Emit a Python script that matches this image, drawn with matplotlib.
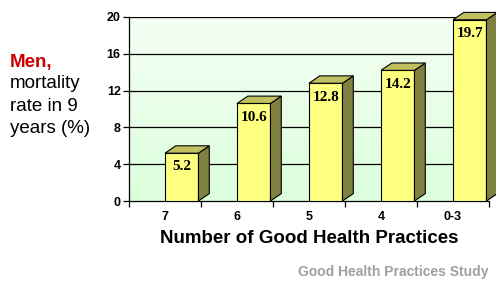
import numpy as np
import matplotlib
matplotlib.use("Agg")
import matplotlib.pyplot as plt
from matplotlib.patches import Polygon
from matplotlib.colors import LinearSegmentedColormap

categories = ["7", "6", "5", "4", "0-3"]
values = [5.2, 10.6, 12.8, 14.2, 19.7]
yticks = [0, 4, 8, 12, 16, 20]

W, H = 496, 282
fig = plt.figure(figsize=(W / 100, H / 100), dpi=100)
fig.patch.set_facecolor("white")
ax = fig.add_axes([129 / W, (H - 201) / H, 360 / W, 184 / H])

sans = ["Liberation Sans", "DejaVu Sans"]
serif = ["Liberation Serif", "DejaVu Serif"]

ax.set_xlim(0, len(categories))
ax.set_ylim(0, 20)

# wall gradient
cmap = LinearSegmentedColormap.from_list("g", ["#dcfedc", "#f4fff4"])
grad = np.linspace(0, 1, 100).reshape(-1, 1)
ax.imshow(grad, extent=[0, len(categories), 0, 20], origin="lower", aspect="auto",
          cmap=cmap, zorder=0)

for t in yticks[1:]:
    ax.axhline(t, color="black", lw=0.9, zorder=1)

bw = 0.465
dx = 0.150
dy = 0.80
xs = np.arange(len(categories)) + 0.5
ax.bar(xs, values, width=bw, align="edge", color="#ffff80", edgecolor="black",
       linewidth=0.8, zorder=3)
for x, v in zip(xs, values):
    side = Polygon([(x + bw, 0), (x + bw + dx, dy), (x + bw + dx, v + dy), (x + bw, v)],
                   closed=True, facecolor="#808040", edgecolor="black", lw=0.8,
                   zorder=3, clip_on=False)
    top = Polygon([(x, v), (x + dx, v + dy), (x + bw + dx, v + dy), (x + bw, v)],
                  closed=True, facecolor="#c0c060", edgecolor="black", lw=0.8,
                  zorder=3, clip_on=False)
    ax.add_patch(side)
    ax.add_patch(top)
    ax.text(x + bw / 2, v - 1.5, f"{v:.1f}", ha="center", va="center",
            fontsize=11, fontweight="bold", family=serif, zorder=4)

for s in ["top", "right"]:
    ax.spines[s].set_visible(False)
ax.spines["left"].set_linewidth(0.9)
ax.spines["bottom"].set_linewidth(0.9)

ax.set_yticks(yticks)
ax.set_yticklabels([str(t) for t in yticks], fontsize=9, fontweight="bold", family=sans)
ax.tick_params(axis="y", length=4, width=0.9, pad=2)

ax.set_xticks(np.arange(len(categories) + 1), minor=False)
ax.set_xticklabels([""] * (len(categories) + 1))
ax.tick_params(axis="x", length=4, width=0.9)
ax.set_xticks(xs, minor=True)
ax.set_xticklabels(categories, minor=True, fontsize=9, fontweight="bold", family=sans)
ax.tick_params(axis="x", which="minor", length=0, pad=7)

ax.set_xlabel("Number of Good Health Practices", fontsize=13.5, fontweight="bold",
              family=sans, labelpad=5)

fig.text(10 / W, 1 - 62 / H, "Men,", color="#cc0000", fontsize=13.5, fontweight="bold",
         family=sans, va="center", ha="left")
for i, line in enumerate(["mortality", "rate in 9", "years (%)"]):
    fig.text(10 / W, 1 - (84 + 22.5 * i) / H, line, color="black", fontsize=13.5,
             family=sans, va="center", ha="left")

fig.text(488 / W, 1 - 272 / H, "Good Health Practices Study", color="#a0a0a0",
         fontsize=10, fontweight="bold", family=sans, ha="right", va="center")

fig.savefig("out.png", dpi=100)
